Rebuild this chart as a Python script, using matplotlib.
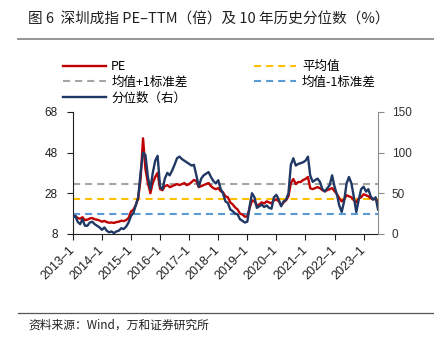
import numpy as np
import pandas as pd
import matplotlib
matplotlib.use("Agg")
import matplotlib.pyplot as plt
from matplotlib.lines import Line2D
from matplotlib.transforms import ScaledTranslation

plt.rcParams['font.family'] = ['Noto Sans CJK SC', 'DejaVu Sans']

# monthly values, 2013-01 .. 2023-07
dates = pd.date_range("2013-01-01", periods=127, freq="MS")
pe = [
    16.5, 16.8, 15.8, 15.5, 16.2, 14.8, 15.0, 15.6, 15.8, 15.2, 15.0, 14.6,
    14.0, 14.4, 13.8, 13.5, 13.6, 13.4, 13.8, 14.0, 14.5, 14.3, 14.8, 15.8,
    19.0, 20.0, 22.0, 25.5, 35.0, 55.0, 40.0, 33.0, 28.0, 33.0, 36.0, 38.0,
    30.0, 29.5, 31.5, 32.0, 31.0, 31.5, 32.0, 32.5, 32.0, 32.5, 33.0, 32.0,
    32.5, 33.5, 34.5, 34.0, 31.0, 31.5, 32.0, 32.5, 33.0, 31.5, 30.5, 30.0,
    30.5, 29.0, 28.5, 26.5, 26.0, 23.5, 22.5, 21.0, 20.0, 18.0, 17.5, 16.5,
    16.5, 21.0, 24.5, 24.0, 22.0, 22.5, 23.5, 23.0, 24.0, 23.5, 23.0, 24.5,
    25.0, 24.0, 22.0, 23.5, 24.5, 26.5, 33.0, 35.0, 32.5, 33.5, 33.5, 34.5,
    35.0, 36.0, 30.5, 30.0, 30.5, 31.0, 30.5, 29.5, 29.0, 29.5, 30.0, 30.5,
    29.0, 27.5, 25.5, 24.0, 25.0, 27.0, 26.5, 26.0, 24.5, 23.5, 25.5, 26.0,
    27.5, 27.0, 26.5, 25.5, 25.0, 25.5, 23.0,
]
pct = [
    20, 22, 15, 12, 18, 10, 10, 14, 15, 12, 10, 8,
    5, 8, 4, 2, 3, 1, 3, 4, 7, 6, 9, 14,
    22, 26, 35, 45, 75, 100, 97, 70, 55, 75, 90, 96,
    58, 55, 68, 75, 72, 78, 85, 93, 95, 92, 90, 88,
    86, 84, 85, 72, 58, 68, 72, 74, 76, 70, 65, 62,
    66, 55, 50, 40, 38, 30, 28, 25, 24, 18, 16, 14,
    15, 35, 50, 45, 32, 34, 36, 33, 35, 32, 31, 45,
    48, 42, 34, 40, 42, 50, 85, 93, 84, 86, 87, 88,
    90, 95, 72, 64, 66, 68, 64, 55, 52, 56, 60, 72,
    58, 48, 35, 27, 40, 62, 70, 62, 45, 27, 42, 55,
    58, 52, 55, 46, 42, 45, 30,
]
pe_mean = 25.2
pe_plus = 32.6
pe_minus = 18.0

years = list(range(2013, 2024))
tick_labels = [f"{y}–1" for y in years]

RED = "#C00000"
NAVY = "#203864"
YEL = "#FFC000"
GRAY = "#A5A5A5"
LBLUE = "#5B9BD5"
NUMFONT = ["Liberation Sans", "DejaVu Sans"]

fig = plt.figure(figsize=(4.34, 3.39), dpi=100)
ax = fig.add_axes([0.168, 0.310, 0.703, 0.360])
ax2 = ax.twinx()

dash = (3.4, 2.4)
ax.axhline(pe_plus, color=GRAY, lw=1.5, dashes=dash)
ax.axhline(pe_mean, color=YEL, lw=1.5, dashes=dash)
ax.axhline(pe_minus, color=LBLUE, lw=1.5, dashes=dash)
ax.plot(dates, pe, color=RED, lw=1.7)
ax2.plot(dates, pct, color=NAVY, lw=1.7)

ax.set_ylim(8, 68)
ax.set_yticks([8, 28, 48, 68])
ax2.set_ylim(0, 150)
ax2.set_yticks([0, 50, 100, 150])
ax.set_xlim(dates[0], dates[-1])
ax.set_xticks([pd.Timestamp(f"{y}-01-01") for y in years])
ax.set_xticklabels(tick_labels, rotation=45, ha="right", va="center",
                   rotation_mode="anchor", family=NUMFONT, fontsize=9)
shift = ScaledTranslation(-5 / 72, 0, fig.dpi_scale_trans)
for lbl in ax.get_xticklabels():
    lbl.set_transform(lbl.get_transform() + shift)

for a in (ax, ax2):
    a.spines["top"].set_visible(False)
ax.spines["right"].set_visible(False)
ax2.spines["left"].set_visible(False)
ax2.spines["bottom"].set_visible(False)
ax2.spines["right"].set_color("#8C8C8C")
ax.spines["left"].set_color("#202020")
ax.spines["bottom"].set_color("#202020")
ax.tick_params(axis="x", length=4, width=0.8, colors="#202020", pad=6.5)
ax.tick_params(axis="y", length=4, width=0.8, colors="#202020", pad=7)
ax2.tick_params(axis="y", length=4, width=0.8, color="#8C8C8C",
                labelcolor="#303030", pad=6)
for lbl in ax.get_yticklabels() + ax2.get_yticklabels():
    lbl.set_family(NUMFONT)
    lbl.set_fontsize(8.5)

# legend
handles = [
    Line2D([], [], color=RED, lw=1.7),
    Line2D([], [], color=GRAY, lw=1.5, dashes=dash),
    Line2D([], [], color=NAVY, lw=1.7),
    Line2D([], [], color=YEL, lw=1.5, dashes=dash),
    Line2D([], [], color=LBLUE, lw=1.5, dashes=dash),
]
labels = ["PE", "均值+1标准差", "分位数（右）", "平均值", "均值-1标准差"]
fig.legend(handles, labels, ncol=2, loc="upper left", bbox_to_anchor=(63 / 434, 0.823),
           frameon=False, fontsize=9, handlelength=3.4, handletextpad=0.45,
           columnspacing=5.3, labelspacing=0.22, borderpad=0, borderaxespad=0)

fig.text(0.065, 0.941, "图 6  深圳成指 PE–TTM（倍）及 10 年历史分位数（%）", fontsize=10.5,
         va="center", ha="left", color="#202020")
fig.add_artist(Line2D([0.042, 1.0], [0.885, 0.885], color="#8C8C8C", lw=1.3))
fig.add_artist(Line2D([0.042, 1.0], [0.076, 0.076], color="#555555", lw=0.9))
fig.text(0.065, 0.041, "资料来源：Wind，万和证券研究所", fontsize=8.5,
         va="center", ha="left", color="#202020")

plt.savefig("out.png", dpi=100)
